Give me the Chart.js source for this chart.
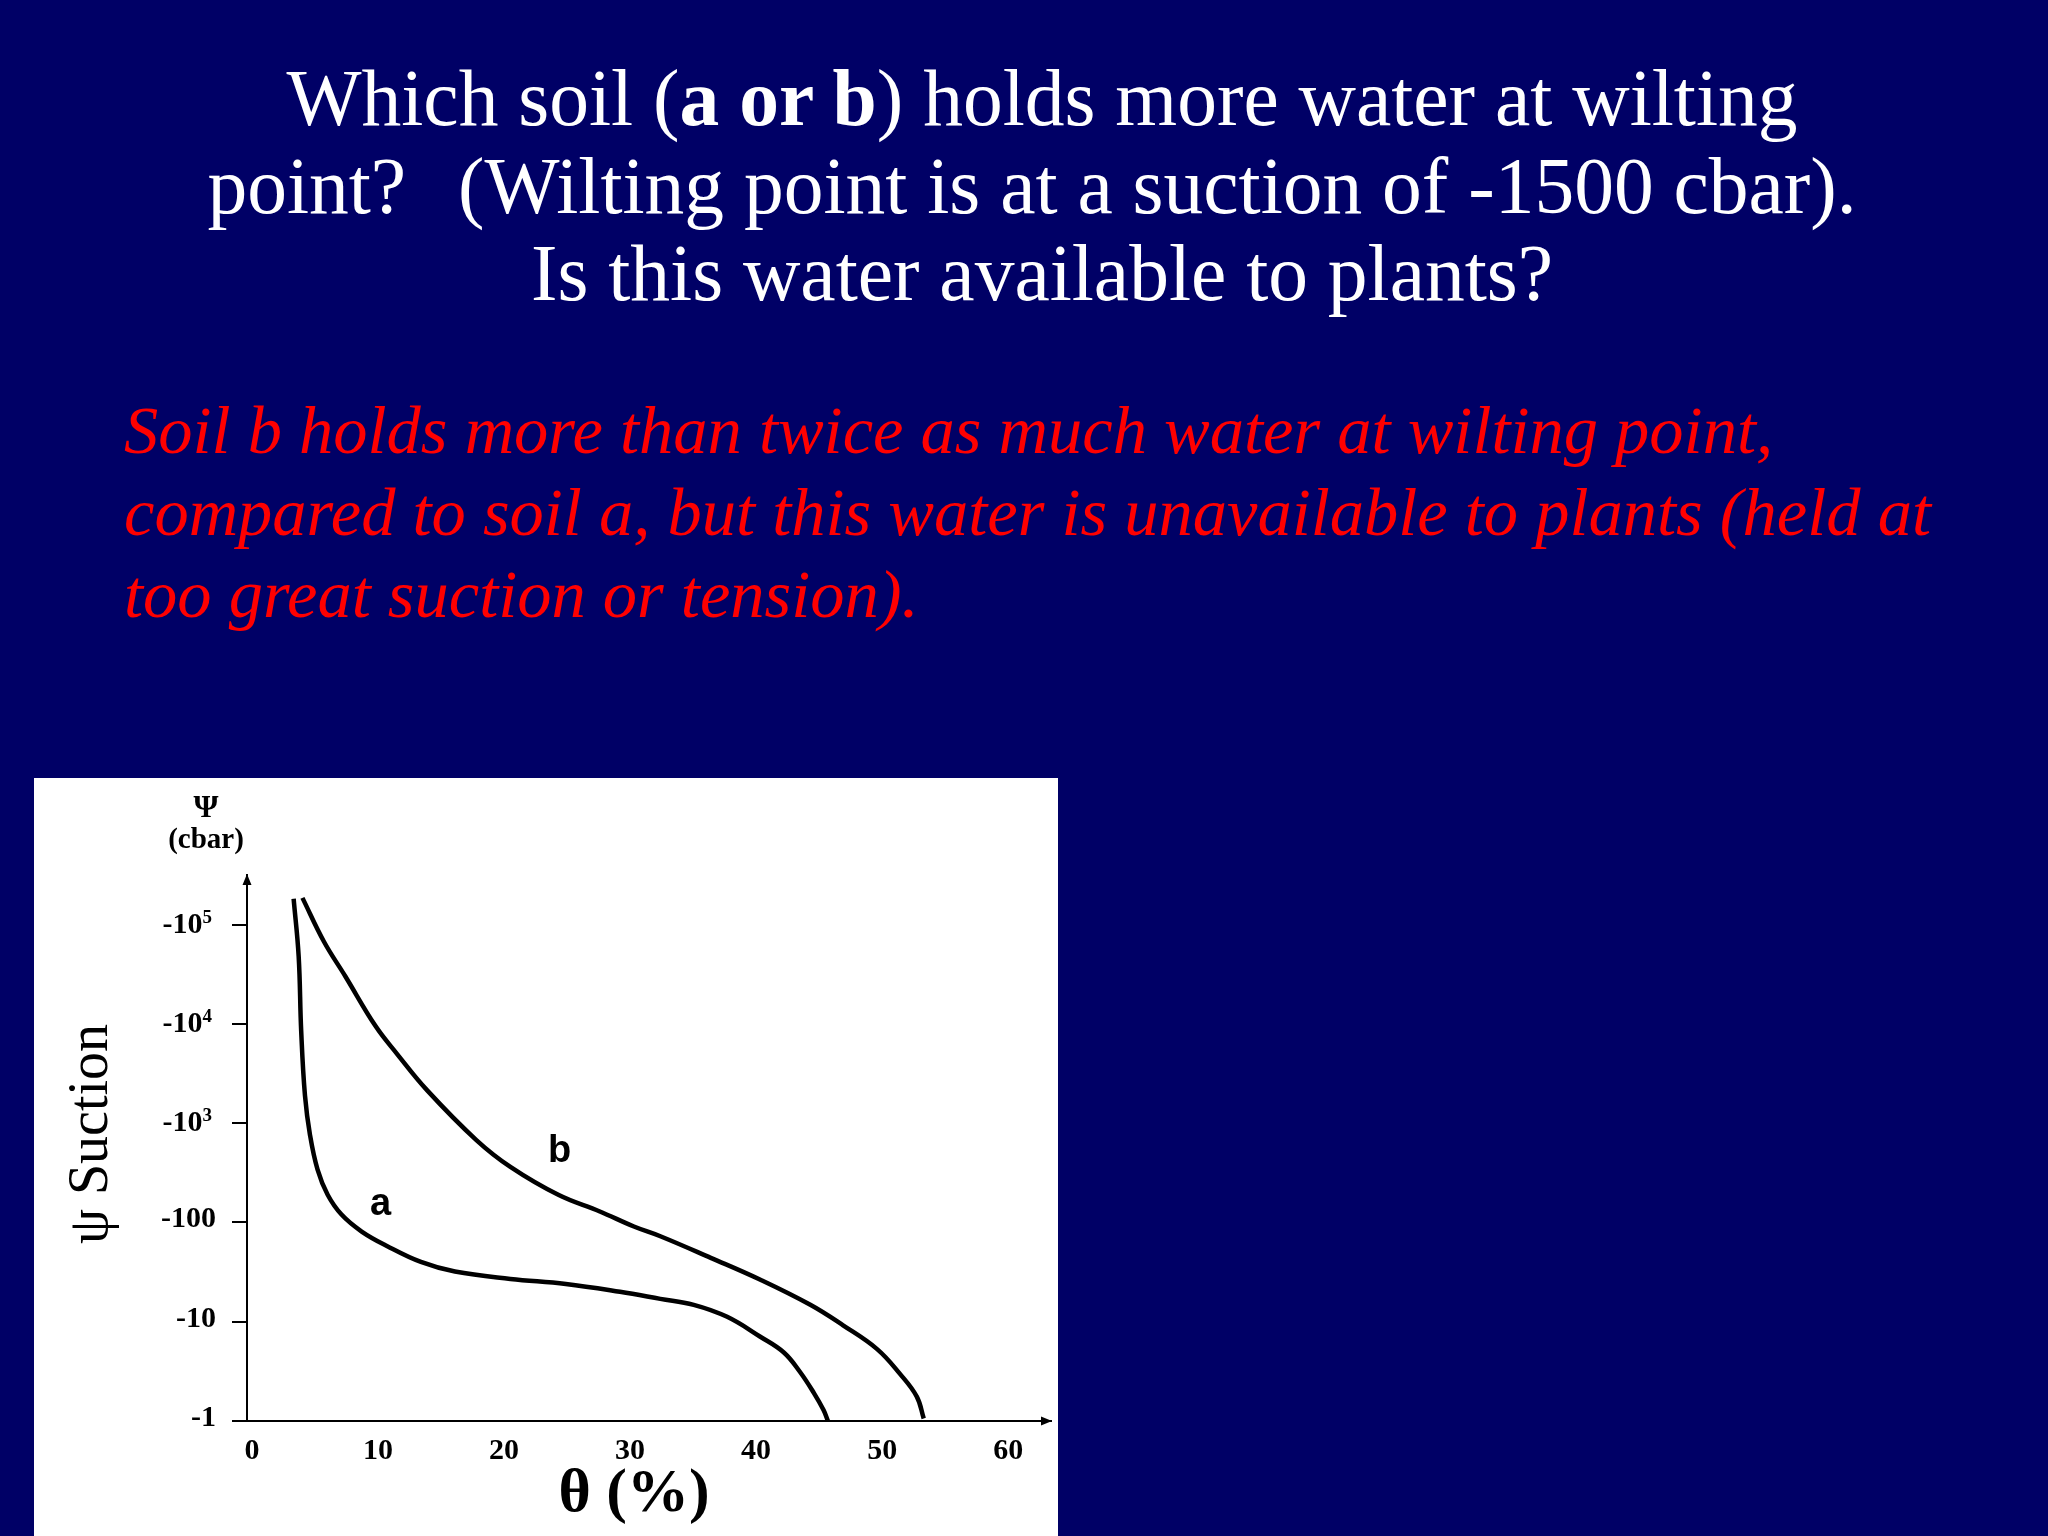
<!DOCTYPE html>
<html>
<head>
<meta charset="utf-8">
<script src="https://cdn.jsdelivr.net/npm/chart.js@4/dist/chart.umd.min.js"></script>
<style>
  html, body { margin: 0; padding: 0; }
  body { width: 2048px; height: 1536px; background: #000066; position: relative; overflow: hidden; }
  .title { position: absolute; left: 36px; width: 2012px; top: 55px; text-align: center; color: #fff;
           font-family: "Liberation Serif", "Times New Roman", serif; font-size: 79.5px; line-height: 87.5px; white-space: pre; }
  .answer { position: absolute; left: 124px; top: 389px; color: #ff0000;
            font-family: "Liberation Serif", "Times New Roman", serif; font-style: italic; font-size: 68.5px; line-height: 82px; white-space: nowrap; }
  #chartBox { position: absolute; left: 34px; top: 778px; width: 1024px; height: 758px; background: #fff; }
</style>
</head>
<body>
<div class="title">Which soil (<b>a or b</b>) holds more water at wilting
point?  <span style="margin-left:12px"></span>(Wilting point is at a suction of -1500 cbar). 
Is this water available to plants?</div>
<div class="answer">Soil b holds more than twice as much water at wilting point,<br>compared to soil a, but this water is unavailable to plants (held at<br>too great suction or tension).</div>
<div id="chartBox"><canvas id="chart" width="1024" height="758"></canvas></div>
<script>
// water retention curves, theta in %, suction in cbar (magnitude)
const thetaA = [3.3, 3.7, 3.9, 4.2, 4.6, 5.2, 6.0, 7.1, 8.7, 10.7, 13.4, 16.1, 20.5, 24.9, 29.2, 32.4, 35.05, 37.7, 40.3, 42.2, 43.5, 44.6, 45.35, 45.7]
const psiA = [182000, 47900, 8500, 1900, 760, 340, 190, 120, 81, 58, 40, 32, 27, 24, 20, 17, 14.8, 11.2, 7.1, 4.9, 3.1, 1.9, 1.29, 1.0]
const thetaB = [4.0, 5.7, 7.4, 9.8, 11.5, 13.9, 17.8, 20.5, 24.3, 27.6, 30.3, 32.4, 36.4, 40.3, 44.3, 46.9, 49.6, 51.4, 52.75, 53.3]
const psiB = [186000, 67600, 30200, 9500, 5000, 2140, 676, 363, 190, 129, 91, 72.6, 44, 26.6, 14.8, 9.2, 5.3, 3.0, 1.76, 1.06]

const xTicks = [0, 10, 20, 30, 40, 50, 60]
const yTicks = [1, 10, 100, 1000, 10000, 100000]
// y tick labels: base text and superscript exponent
const yTickBase = ['-1', '-10', '-100', '-10', '-10', '-10']
const yTickExp = ['', '', '', '3', '4', '5']

const curveNames = ['a', 'b']
const nameTheta = [10.2, 24.4]
const namePsi = [120, 405]

const serif = '"Liberation Serif", "Times New Roman", serif'

const decorations = {
    id: 'decorations',
    afterDraw(chart){
        const {ctx, chartArea: area, scales: {x, y}} = chart
        ctx.save()
        ctx.fillStyle = '#000'
        // arrow heads on the axes
        ctx.beginPath()
        ctx.moveTo(area.left, area.top - 1)
        ctx.lineTo(area.left - 4.5, area.top + 10)
        ctx.lineTo(area.left + 4.5, area.top + 10)
        ctx.closePath()
        ctx.fill()
        ctx.beginPath()
        ctx.moveTo(area.right + 1, area.bottom)
        ctx.lineTo(area.right - 10, area.bottom - 4.5)
        ctx.lineTo(area.right - 10, area.bottom + 4.5)
        ctx.closePath()
        ctx.fill()

        // y tick labels with real superscripts, at the scale's tick pixels
        ctx.textBaseline = 'alphabetic'
        y.ticks.forEach((tick, i) => {
            const py = y.getPixelForTick(i)
            const exp = yTickExp[i]
            ctx.font = 'bold 30px ' + serif
            if(exp){
                const right = area.left - 35
                ctx.textAlign = 'right'
                ctx.font = 'bold 19px ' + serif
                const ew = ctx.measureText(exp).width
                ctx.fillText(exp, right, py - 2)
                ctx.font = 'bold 30px ' + serif
                ctx.fillText(yTickBase[i], right - ew, py + 8)
            } else {
                ctx.textAlign = 'right'
                ctx.fillText(yTickBase[i], area.left - 31, py + 5)
            }
        })

        // unit label above y axis
        ctx.textAlign = 'center'
        ctx.textBaseline = 'middle'
        ctx.font = 'bold 32px ' + serif
        ctx.fillText('Ψ', area.left - 41, 31)
        ctx.font = 'bold 29px ' + serif
        ctx.fillText('(cbar)', area.left - 41, 63)

        // axis titles
        ctx.font = 'bold 62px ' + serif
        ctx.fillText('θ (%)', 600, 717)
        ctx.save()
        ctx.translate(73, 356)
        ctx.rotate(-Math.PI / 2)
        ctx.textBaseline = 'alphabetic'
        ctx.font = '56px ' + serif
        ctx.fillText('ψ Suction', 0, 0)
        ctx.restore()

        // curve names
        ctx.font = 'bold 38px "Liberation Sans", Arial, sans-serif'
        ctx.textBaseline = 'alphabetic'
        for(let i=0; i<curveNames.length; i++){
            ctx.fillText(curveNames[i], x.getPixelForValue(nameTheta[i]), y.getPixelForValue(namePsi[i]))
        }
        ctx.restore()
    }
}

const curve = (thetas, psis) => thetas.map((t, i) => ({x: t, y: psis[i]}))

new Chart('chart', {
    type: 'line',
    data: {
        datasets: [
            {label: 'a', data: curve(thetaA, psiA), borderColor: '#000', borderWidth: 4.5, pointRadius: 0, tension: 0.4, fill: false},
            {label: 'b', data: curve(thetaB, psiB), borderColor: '#000', borderWidth: 4.5, pointRadius: 0, tension: 0.4, fill: false}
        ]
    },
    options: {
        responsive: false,
        animation: false,
        devicePixelRatio: 1,
        layout: {padding: {top: 97, right: 7, left: 0, bottom: 0}},
        plugins: {legend: {display: false}, tooltip: {enabled: false}},
        scales: {
            x: {
                type: 'linear',
                min: -0.4,
                max: 63.4,
                afterBuildTicks: (scale) => { scale.ticks = xTicks.map(v => ({value: v})) },
                afterFit: (scale) => { scale.height = 115 },
                grid: {display: true, drawOnChartArea: false, drawTicks: false},
                border: {display: true, color: '#000', width: 2},
                ticks: {
                    color: '#000',
                    padding: 12,
                    maxRotation: 0,
                    font: {family: serif, size: 30, weight: 'bold'},
                    callback: (value) => String(value)
                }
            },
            y: {
                type: 'logarithmic',
                min: 1,
                max: 316228,
                afterBuildTicks: (scale) => { scale.ticks = yTicks.map(v => ({value: v})) },
                afterFit: (scale) => { scale.width = 213 },
                grid: {display: true, drawOnChartArea: false, drawTicks: true, tickLength: 15, color: '#000', lineWidth: 2},
                border: {display: true, color: '#000', width: 2},
                ticks: {display: false}
            }
        }
    },
    plugins: [decorations]
})
</script>
</body>
</html>
